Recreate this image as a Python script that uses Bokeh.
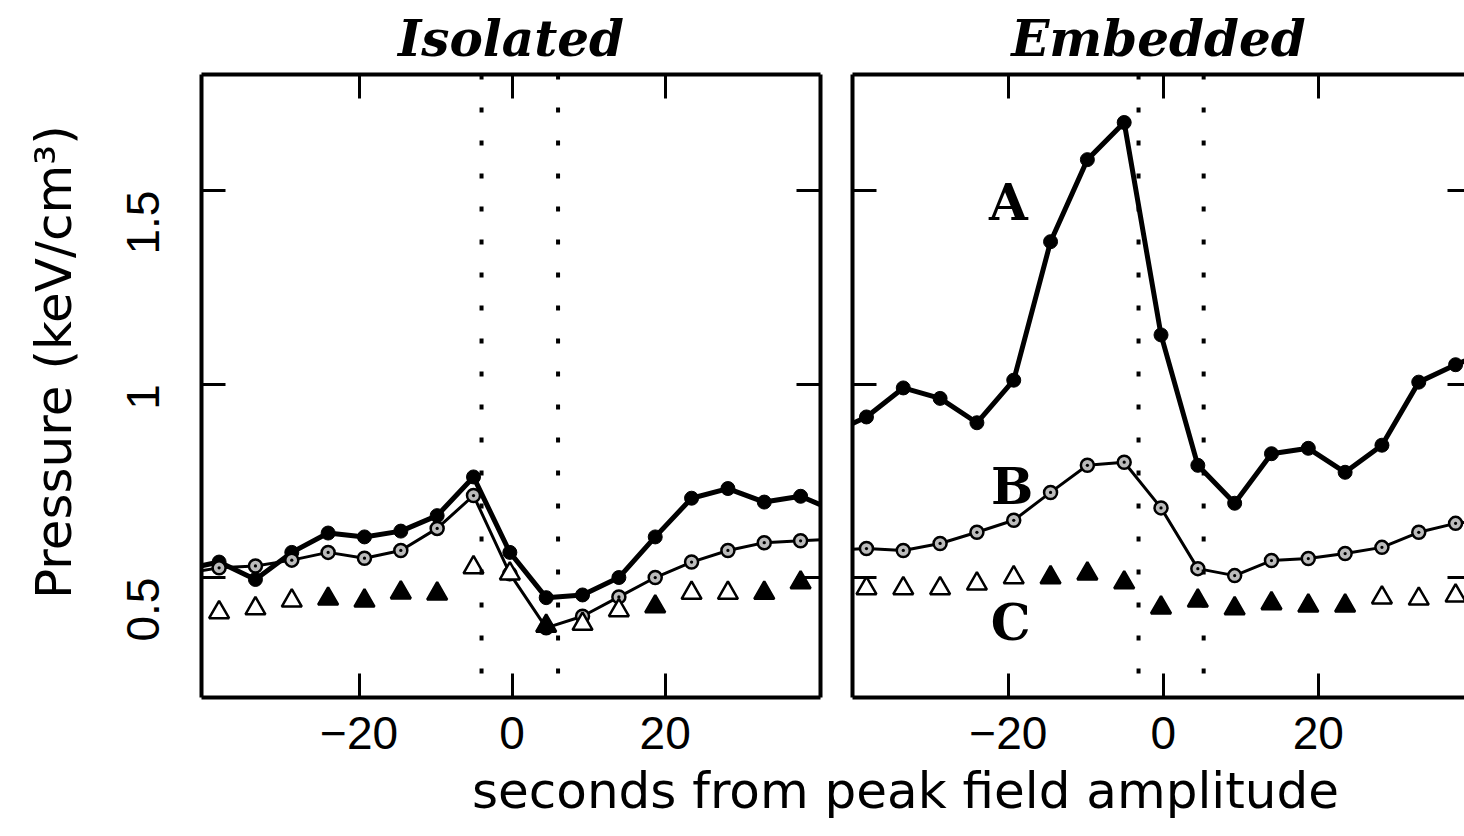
import numpy as np
from bokeh.plotting import figure
from bokeh.models import (ColumnDataSource, LinearAxis, FixedTicker, Span, Label,
                          Range1d, CustomJSTickFormatter)
from bokeh.layouts import row, column
from bokeh.embed import file_html
from bokeh.resources import INLINE
from bokeh.core.properties import value

nan = np.nan

# sample times, seconds from peak field amplitude
t = [-43.05, -38.3, -33.55, -28.8, -24.05, -19.3, -14.55, -9.8, -5.05, -0.3,
     4.45, 9.2, 13.95, 18.7, 23.45, 28.2, 32.95, 37.7, 42.45]

# isolated event: pressures in keV/cm^3
iso_A = [0.52, 0.54, 0.495, 0.565, 0.615, 0.605, 0.62, 0.66, 0.76, 0.565,
         0.448, 0.455, 0.50, 0.605, 0.705, 0.73, 0.695, 0.71, 0.67]
iso_B = [0.51, 0.525, 0.53, 0.545, 0.565, 0.55, 0.57, 0.627, 0.712, 0.51,
         0.37, 0.40, 0.45, 0.50, 0.54, 0.57, 0.59, 0.595, 0.60]
iso_C = [nan, 0.41, 0.42, 0.44, 0.445, 0.44, 0.461, 0.458, 0.526, 0.51,
         0.375, 0.38, 0.415, 0.425, 0.46, 0.46, 0.46, 0.487, nan]
iso_C_open = [0, 1, 1, 1, 0, 0, 0, 0, 1, 1, 0, 1, 1, 0, 1, 1, 0, 0, 0]
iso_marks = [-4.0, 6.0]

# embedded event
emb_A = [0.87, 0.915, 0.99, 0.963, 0.90, 1.01, 1.368, 1.58, 1.676, 1.127,
         0.79, 0.692, 0.82, 0.834, 0.772, 0.842, 1.005, 1.05, 1.09]
emb_B = [0.57, 0.575, 0.57, 0.588, 0.617, 0.648, 0.72, 0.79, 0.798, 0.68,
         0.523, 0.505, 0.544, 0.549, 0.562, 0.578, 0.617, 0.64, 0.65]
emb_C = [nan, 0.472, 0.472, 0.472, 0.484, 0.50, 0.50, 0.51, 0.487, 0.422,
         0.44, 0.42, 0.433, 0.427, 0.427, 0.448, 0.445, 0.453, nan]
emb_C_open = [0, 1, 1, 1, 1, 1, 0, 0, 0, 0, 0, 0, 0, 0, 0, 1, 1, 1, 0]
emb_marks = [-3.2, 5.2]

# curve labels on the embedded panel
curve_names = ["A", "B", "C"]
curve_name_x = [-20.0, -19.5, -19.7]
curve_name_y = [1.47, 0.735, 0.385]

x_ticks = [-20, 0, 20]
y_ticks = [0.5, 1.0, 1.5]
y_range = (0.19, 1.80)

TICK_FONT = "Liberation Sans"
LABEL_FONT = "DejaVu Sans"
SERIF = "DejaVu Serif"

num_fmt = CustomJSTickFormatter(code="""
    return tick < 0 ? "\\u2212" + String(-tick) : String(tick);
""")
blank_fmt = CustomJSTickFormatter(code="return '';")


def add_axis(p, side, ticks, labelled, tick_in=24, line=True):
    ax = LinearAxis(ticker=FixedTicker(ticks=ticks),
                    formatter=num_fmt if labelled else blank_fmt,
                    major_tick_in=tick_in, major_tick_out=0,
                    minor_tick_line_color=None,
                    major_tick_line_color="black", major_tick_line_width=3,
                    axis_line_color="black" if line else None,
                    axis_line_width=4,
                    major_label_text_font=TICK_FONT,
                    major_label_text_font_size="46px" if labelled else "1px",
                    major_label_text_color="black",
                    major_label_standoff=19 if labelled else 0)
    p.add_layout(ax, side)
    return ax


def panel(title, xr, width, border_left, border_right, A, B, C, C_open, marks):
    p = figure(width=width, height=760, x_range=Range1d(*xr), y_range=Range1d(*y_range),
               output_backend="svg", toolbar_location=None,
               x_axis_location=None, y_axis_location=None,
               min_border_left=border_left, min_border_right=border_right,
               min_border_top=74, min_border_bottom=63,
               outline_line_color=None, background_fill_color="white",
               border_fill_color="white")
    p.grid.visible = False
    p.title.text = title
    p.title.align = "center"
    p.title.text_font = SERIF
    p.title.text_font_style = "bold italic"
    p.title.text_font_size = "50px"
    p.title.text_color = "black"
    p.title.standoff = 13

    for m in marks:
        p.add_layout(Span(location=m, dimension="height", line_color="black",
                          line_width=4, line_dash="5 28"))

    src = ColumnDataSource(dict(t=np.array(t), A=np.array(A, dtype=float),
                                B=np.array(B, dtype=float)))
    p.line("t", "A", source=src, line_color="black", line_width=5)
    p.scatter("t", "A", source=src, marker="circle", size=14,
              fill_color="black", line_color="black")
    p.line("t", "B", source=src, line_color="black", line_width=3)
    p.scatter("t", "B", source=src, marker="circle_dot", size=13,
              fill_color="#bbbbbb", line_color="black", line_width=2.5)

    keep = [i for i, v in enumerate(C) if not np.isnan(v)]
    csrc = ColumnDataSource(dict(
        t=[t[i] for i in keep], C=[C[i] for i in keep],
        fill=["white" if C_open[i] else "black" for i in keep]))
    p.scatter("t", "C", source=csrc, marker="triangle", size=20,
              fill_color="fill", line_color="black", line_width=2.5)
    return p


p1 = panel("Isolated", (-40.6, 40.3), 836, 201, 16,
           iso_A, iso_B, iso_C, iso_C_open, iso_marks)
ax = add_axis(p1, "left", y_ticks, True)
ax.major_label_orientation = np.pi / 2
ax.major_label_standoff = 58
ax.axis_label = "\u00a0\u00a0\u00a0Pressure (keV/cm\u00b3)"
ax.axis_label_text_font = LABEL_FONT
ax.axis_label_text_font_size = "50px"
ax.axis_label_text_font_style = "normal"
ax.axis_label_text_color = "black"
ax.axis_label_standoff = 26
add_axis(p1, "below", x_ticks, True)
add_axis(p1, "above", x_ticks, False)
add_axis(p1, "right", y_ticks, False)

p2 = panel("Embedded", (-40.1, 38.85), 628, 16, 0,
           emb_A, emb_B, emb_C, emb_C_open, emb_marks)
add_axis(p2, "left", y_ticks, False)
add_axis(p2, "below", x_ticks, True)
add_axis(p2, "above", x_ticks, False)
add_axis(p2, "right", y_ticks, False, tick_in=17, line=False)
p2.text(x=curve_name_x, y=curve_name_y, text=curve_names,
        text_font=value(SERIF), text_font_style="bold", text_font_size="50px",
        text_align="center", text_baseline="middle", text_color="black")

# shared x-axis caption below both panels
p3 = figure(width=1464, height=76, x_range=Range1d(0, 1464), y_range=Range1d(0, 76),
            output_backend="svg", toolbar_location=None,
            x_axis_location=None, y_axis_location=None, min_border=0,
            outline_line_color=None, border_fill_color="white")
p3.grid.visible = False
p3.add_layout(Label(x=905, y=46, text="seconds from peak field amplitude",
                    text_align="center", text_baseline="middle",
                    text_font=LABEL_FONT, text_font_size="50px", text_color="black"))

layout = column(row(p1, p2), p3)
open("out.html", "w").write(file_html(layout, INLINE))
